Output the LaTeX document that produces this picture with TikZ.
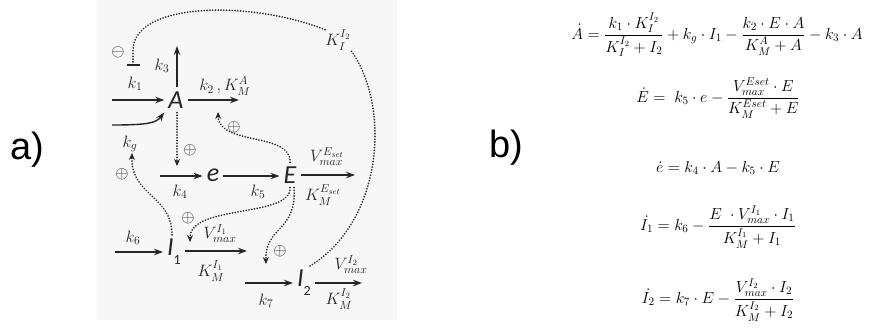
\RequirePackage{fix-cm}
\documentclass[tikz,border=0pt]{standalone}
\usepackage{amsmath,amssymb}
\usepackage{fontspec}
\usepackage{tikz}
\usetikzlibrary{arrows.meta,calc}
\newfontfamily\spfont{Carlito}
\newfontfamily\panfont{Liberation Sans}
\def\vmax{V_{max}}
\definecolor{ink}{HTML}{262626}

\tikzset{
  species/.style={font=\spfont\itshape\fontsize{26}{26}\selectfont,inner sep=4pt,text=ink},
  lbl/.style={font=\fontsize{16.5}{16.5}\selectfont,inner sep=0pt,text=ink},
  sgn/.style={font=\fontsize{17}{17}\selectfont,inner sep=0pt,text=ink},
  flow/.style={ink,line width=1.4pt,-{Stealth[length=9pt,width=6.5pt]}},
  reg/.style={ink,line width=1.8pt,line cap=round,dash pattern=on 0.1pt off 2.7pt,-{Stealth[length=7pt,width=6pt]}},
  inh/.style={ink,line width=1.8pt,line cap=round,dash pattern=on 0.1pt off 2.7pt},
  eqn/.style={font=\fontsize{16}{19}\selectfont,inner sep=0pt},
  panel/.style={font=\panfont\fontsize{38}{38}\selectfont,inner sep=0pt}
}

\begin{document}
\begin{tikzpicture}[x=1pt,y=-1pt]
  \useasboundingbox (0,0) rectangle (872,330);
  \fill[black!3] (97,0) rectangle (397,320);

  \node[panel] (pa) at (27,150) {a)};
  \node[panel] (pb) at (506,148) {b)};

  % species
  \node[species] (A) at (176,100) {A};
  \node[species] (e) at (213,175) {e};
  \node[species] (E) at (290,175) {E};
  \node[species] (I1) at (174,252) {I\raisebox{-9pt}{\upshape\fontsize{14}{14}\selectfont 1}};
  \node[species] (I2) at (304,283) {I\raisebox{-9pt}{\upshape\fontsize{14}{14}\selectfont 2}};

  % free ends
  \coordinate (in1) at (112,100);
  \coordinate (ing) at (112,125);
  \coordinate (out3) at (177,46);
  \coordinate (out2) at (239,100);
  \coordinate (in4) at (160,176);
  \coordinate (outE) at (355,175);
  \coordinate (in6) at (115,252);
  \coordinate (out6) at (247,251);
  \coordinate (in7) at (245,283);
  \coordinate (outI2) at (362,283);

  \draw[flow] (in1) -- (in1 -| A.west);
  \draw[flow] (ing) .. controls (148,125) and (156,123) .. (A.south west);
  \draw[flow] (A.north -| out3) -- (out3);
  \draw[flow] (A.east |- out2) -- (out2);
  \draw[flow] (in4) -- (in4 -| e.west);
  \draw[flow] (e.east |- in4) -- (E.west |- in4);
  \draw[flow] (E.east |- outE) -- (outE);
  \draw[flow] (in6) -- (in6 -| I1.west);
  \draw[flow] (I1.east |- out6) -- (out6);
  \draw[flow] (in7) -- (in7 -| I2.west);
  \draw[flow] (I2.east |- outI2) -- (outI2);

  % rate labels
  \node[lbl] (lk1) at (135,84) {$k_1$};
  \node[lbl] (lk3) at (162,66) {$k_3$};
  \node[lbl] (lk2) at (225,86) {$k_2\,,K_M^A$};
  \node[lbl] (lkg) at (130,144) {$k_g$};
  \node[lbl] (lk4) at (180,192) {$k_4$};
  \node[lbl] (lk5) at (258,192) {$k_5$};
  \node[lbl] (lvE) at (327,157) {$\vmax^{E_{set}}$};
  \node[lbl] (lkE) at (323,195) {$K_M^{E_{set}}$};
  \node[lbl] (lk6) at (133,238) {$k_6$};
  \node[lbl] (lv1) at (220,234) {$\vmax^{I_1}$};
  \node[lbl] (lkm1) at (211,271) {$K_M^{I_1}$};
  \node[lbl] (lk7) at (266,301) {$k_7$};
  \node[lbl] (lv2) at (351,265) {$\vmax^{I_2}$};
  \node[lbl] (lkm2) at (339,299) {$K_M^{I_2}$};
  \node[lbl] (KI) at (338,40) {$K_I^{I_2}$};

  % regulation
  \coordinate (tk4) at (177,166);
  \coordinate (tk2) at (218,112);
  \coordinate (tkg) at (132,153);
  \coordinate (tv1) at (190,242);
  \coordinate (tk7) at (266,264);
  \coordinate (tbar) at (133,66);
  \draw[reg] (A.south -| tk4) -- (tk4);
  \draw[reg] (E.north) .. controls (292,132) and (219,146) .. (tk2);
  \draw[reg] (I1.north -| 172,0) .. controls (172,195) and (131,196) .. (tkg);
  \draw[reg] (E.south) .. controls (292,218) and (190,204) .. (tv1);
  \draw[reg] ($(E.south)+(4,0)$) .. controls (297,232) and (265,226) .. (tk7);
  \draw[inh] ($(I2.north)+(6,0)$) .. controls (382,222) and (392,108) .. (KI.south east);
  \draw[inh,-{Bar[width=13pt]}] (KI.north west) .. controls (250,0) and (134,2) .. (133,50) -- (tbar);

  \node[sgn] (m1) at (118,52) {$\ominus$};
  \node[sgn] (p1) at (190,150) {$\oplus$};
  \node[sgn] (p2) at (234,127) {$\oplus$};
  \node[sgn] (p3) at (122,174) {$\oplus$};
  \node[sgn] (p4) at (188,218) {$\oplus$};
  \node[sgn] (p5) at (280,251) {$\oplus$};

  % equations
  \node[eqn] (eqA) at (717,35) {$\displaystyle \dot{A}=\frac{k_1\cdot K_I^{I_2}}{K_I^{I_2}+I_2}+k_g\cdot I_1-\frac{k_2\cdot E\cdot A}{K_M^A+A}-k_3\cdot A$};
  \node[eqn] (eqE) at (718,98) {$\displaystyle \dot{E}=\;k_5\cdot e-\frac{V_{max}^{Eset}\cdot E}{K_M^{Eset}+E}$};
  \node[eqn] (eqe) at (718,168) {$\displaystyle \dot{e}=k_4\cdot A-k_5\cdot E$};
  \node[eqn] (eqI1) at (718,227) {$\displaystyle \dot{I_1}=k_6-\frac{E\ \cdot V_{max}^{I_1}\cdot I_1}{K_M^{I_1}+I_1}$};
  \node[eqn] (eqI2) at (718,300) {$\displaystyle \dot{I_2}=k_7\cdot E-\frac{V_{max}^{I_2}\cdot I_2}{K_M^{I_2}+I_2}$};
\end{tikzpicture}
\end{document}
